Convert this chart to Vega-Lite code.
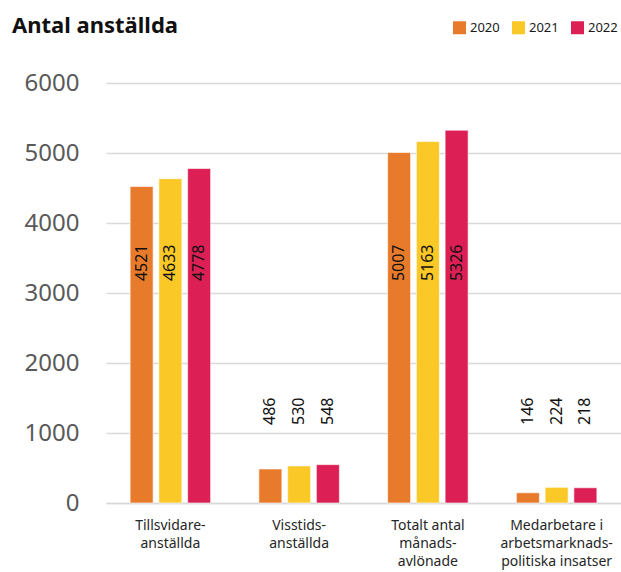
{
  "$schema": "https://vega.github.io/schema/vega-lite/v6.json",
  "width": 515,
  "height": 420,
  "autosize": {"type": "none"},
  "padding": {"left": 106, "top": 83, "right": 0, "bottom": 69},
  "background": "white",
  "title": {
    "text": "Antal anställda",
    "anchor": "start",
    "frame": "group",
    "dx": -94,
    "offset": 0,
    "dy": 34,
    "baseline": "alphabetic",
    "font": "Noto Sans",
    "fontSize": 22,
    "fontWeight": "bold",
    "color": "#111111"
  },
  "config": {
    "view": {"stroke": null},
    "font": "Noto Sans"
  },
  "data": {
    "values": [
      {"kategori": "Tillsvidareanställda", "år": "2020", "antal": 4521},
      {"kategori": "Tillsvidareanställda", "år": "2021", "antal": 4633},
      {"kategori": "Tillsvidareanställda", "år": "2022", "antal": 4778},
      {"kategori": "Visstidsanställda", "år": "2020", "antal": 486},
      {"kategori": "Visstidsanställda", "år": "2021", "antal": 530},
      {"kategori": "Visstidsanställda", "år": "2022", "antal": 548},
      {"kategori": "Totalt antal månadsavlönade", "år": "2020", "antal": 5007},
      {"kategori": "Totalt antal månadsavlönade", "år": "2021", "antal": 5163},
      {"kategori": "Totalt antal månadsavlönade", "år": "2022", "antal": 5326},
      {"kategori": "Medarbetare i arbetsmarknadspolitiska insatser", "år": "2020", "antal": 146},
      {"kategori": "Medarbetare i arbetsmarknadspolitiska insatser", "år": "2021", "antal": 224},
      {"kategori": "Medarbetare i arbetsmarknadspolitiska insatser", "år": "2022", "antal": 218}
    ]
  },
  "encoding": {
    "x": {
      "field": "kategori",
      "type": "nominal",
      "sort": null,
      "scale": {"paddingInner": 0.33, "paddingOuter": 0.165},
      "axis": {
        "title": null,
        "labelAngle": 0,
        "ticks": false,
        "domain": true,
        "domainColor": "#d9d9d9",
        "domainWidth": 1.5,
        "labelPadding": 15,
        "labelFontSize": 14,
        "labelColor": "#262626",
        "labelLineHeight": 18,
        "labelBaseline": "top",
        "labelExpr": "datum.value == 'Tillsvidareanställda' ? ['Tillsvidare-', 'anställda'] : datum.value == 'Visstidsanställda' ? ['Visstids-', 'anställda'] : datum.value == 'Totalt antal månadsavlönade' ? ['Totalt antal', 'månads-', 'avlönade'] : ['Medarbetare i', 'arbetsmarknads-', 'politiska insatser']"
      }
    },
    "xOffset": {
      "field": "år",
      "type": "nominal",
      "scale": {"paddingInner": 0.2, "paddingOuter": 0.1}
    }
  },
  "layer": [
    {
      "mark": {"type": "bar", "stroke": "white", "strokeWidth": 0.6},
      "encoding": {
        "y": {
          "field": "antal",
          "type": "quantitative",
          "scale": {"domain": [0, 6000]},
          "axis": {
            "title": null,
            "values": [0, 1000, 2000, 3000, 4000, 5000, 6000],
            "format": "d",
            "ticks": false,
            "domain": false,
            "grid": true,
            "gridColor": "#d9d9d9",
            "gridWidth": 1.5,
            "labelPadding": 27,
            "labelFontSize": 24,
            "labelColor": "#595959"
          }
        },
        "color": {
          "field": "år",
          "type": "nominal",
          "scale": {"domain": ["2020", "2021", "2022"], "range": ["#E87B2B", "#FAC827", "#DC2055"]},
          "legend": {
            "title": null,
            "orient": "none",
            "direction": "horizontal",
            "legendX": 347,
            "legendY": -62,
            "symbolType": "square",
            "symbolSize": 169,
            "symbolStrokeWidth": 0,
            "symbolOpacity": 1,
            "labelFontSize": 13,
            "labelColor": "#1a1a1a",
            "labelOffset": 4,
            "columnPadding": 12
          }
        }
      }
    },
    {
      "transform": [{"filter": "datum.antal > 1000"}],
      "mark": {"type": "text", "angle": -90, "align": "left", "baseline": "middle", "fontSize": 16, "color": "#111111"},
      "encoding": {
        "y": {"datum": 3170, "type": "quantitative"},
        "text": {"field": "antal", "type": "quantitative", "format": "d"}
      }
    },
    {
      "transform": [{"filter": "datum.antal < 1000"}],
      "mark": {"type": "text", "angle": -90, "align": "left", "baseline": "middle", "fontSize": 16, "color": "#111111"},
      "encoding": {
        "y": {"datum": 1114, "type": "quantitative"},
        "text": {"field": "antal", "type": "quantitative", "format": "d"}
      }
    }
  ]
}
